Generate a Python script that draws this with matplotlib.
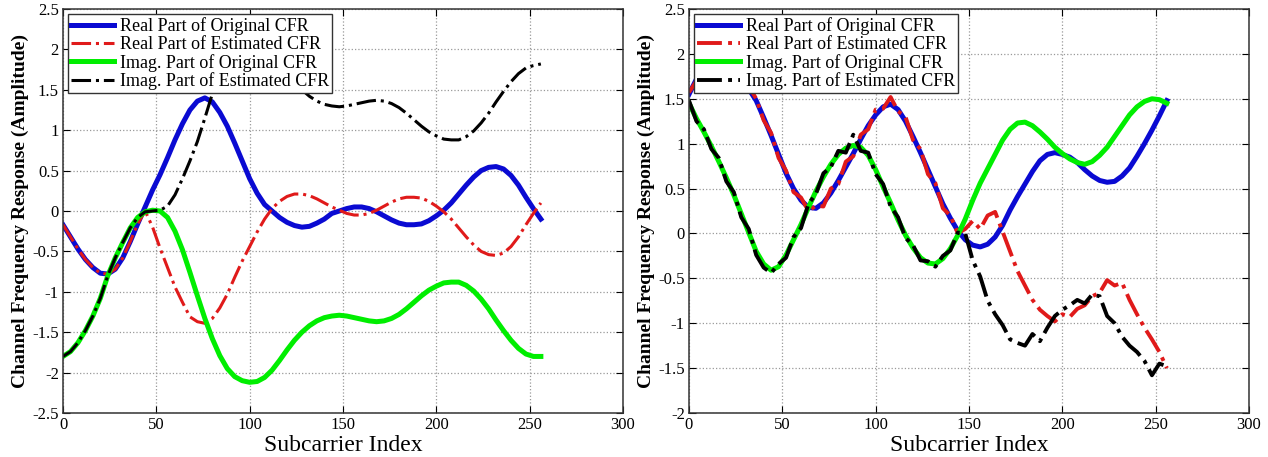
import numpy as np
import matplotlib.pyplot as plt
from matplotlib.ticker import FormatStrFormatter

plt.rcParams['font.family'] = ['Liberation Serif', 'DejaVu Serif']
plt.rcParams['axes.unicode_minus'] = False

# subcarrier index, sampled every 4
sc = np.arange(0, 257, 4)

labels = ['Real Part of Original CFR', 'Real Part of Estimated CFR',
          'Imag. Part of Original CFR', 'Imag. Part of Estimated CFR']

# ---- left panel ----
real_orig_l = [-0.17, -0.32, -0.47, -0.60, -0.70, -0.77, -0.78, -0.72, -0.58, -0.38, -0.16, 0.05,
               0.26, 0.45, 0.66, 0.88, 1.08, 1.25, 1.36, 1.40, 1.35, 1.22, 1.05, 0.84, 0.62, 0.40,
               0.22, 0.08, 0.00, -0.08, -0.14, -0.18, -0.20, -0.19, -0.15, -0.10, -0.03, 0.00, 0.03,
               0.05, 0.05, 0.03, -0.01, -0.06, -0.11, -0.15, -0.17, -0.17, -0.16, -0.12, -0.06, 0.01,
               0.10, 0.21, 0.32, 0.42, 0.50, 0.54, 0.55, 0.52, 0.44, 0.32, 0.17, 0.03, -0.10]
real_est_l = [-0.17, -0.32, -0.47, -0.60, -0.70, -0.77, -0.78, -0.72, -0.58, -0.38, -0.16, 0.00,
              -0.20, -0.46, -0.70, -0.94, -1.13, -1.31, -1.37, -1.39, -1.33, -1.20, -1.03, -0.82,
              -0.62, -0.44, -0.26, -0.10, 0.03, 0.12, 0.18, 0.21, 0.21, 0.19, 0.15, 0.10, 0.05,
              0.01, -0.03, -0.05, -0.05, -0.03, 0.01, 0.06, 0.11, 0.15, 0.17, 0.17, 0.16, 0.12,
              0.06, -0.01, -0.10, -0.21, -0.32, -0.42, -0.50, -0.54, -0.55, -0.52, -0.44, -0.32,
              -0.17, -0.03, 0.10]
imag_orig_l = [-1.80, -1.74, -1.63, -1.48, -1.30, -1.08, -0.80, -0.58, -0.39, -0.21, -0.08, -0.01,
               0.01, 0.00, -0.08, -0.25, -0.48, -0.76, -1.05, -1.33, -1.58, -1.79, -1.95, -2.05,
               -2.10, -2.12, -2.11, -2.06, -1.97, -1.85, -1.72, -1.60, -1.50, -1.42, -1.36, -1.32,
               -1.30, -1.29, -1.30, -1.32, -1.34, -1.36, -1.37, -1.36, -1.33, -1.28, -1.21, -1.13,
               -1.05, -0.98, -0.93, -0.89, -0.88, -0.88, -0.92, -0.99, -1.09, -1.21, -1.35, -1.48,
               -1.60, -1.70, -1.77, -1.80, -1.80]
imag_est_l = [-1.80, -1.74, -1.63, -1.48, -1.30, -1.08, -0.80, -0.58, -0.39, -0.21, -0.08, -0.01,
              0.00, 0.01, 0.06, 0.20, 0.40, 0.62, 0.86, 1.15, 1.45, 1.72, 1.92, 2.04, 2.10, 2.12,
              2.11, 2.06, 1.97, 1.85, 1.72, 1.60, 1.50, 1.42, 1.36, 1.32, 1.30, 1.29, 1.30, 1.32,
              1.34, 1.36, 1.37, 1.36, 1.33, 1.28, 1.21, 1.13, 1.05, 0.98, 0.93, 0.89, 0.88, 0.88,
              0.92, 0.99, 1.09, 1.21, 1.35, 1.48, 1.60, 1.70, 1.77, 1.80, 1.82]

# ---- right panel ----
real_orig_r = [1.55, 1.72, 1.85, 1.93, 1.95, 1.92, 1.84, 1.74, 1.61, 1.48, 1.29, 1.09, 0.88, 0.67,
               0.50, 0.37, 0.29, 0.28, 0.34, 0.45, 0.59, 0.74, 0.89, 1.05, 1.20, 1.32, 1.41, 1.44,
               1.38, 1.25, 1.08, 0.90, 0.71, 0.52, 0.33, 0.17, 0.03, -0.07, -0.13, -0.15, -0.12,
               -0.04, 0.09, 0.26, 0.41, 0.55, 0.69, 0.81, 0.88, 0.90, 0.88, 0.85, 0.79, 0.71, 0.64,
               0.59, 0.57, 0.58, 0.64, 0.73, 0.86, 1.00, 1.15, 1.31, 1.48]
real_est_r = [1.57, 1.70, 1.88, 1.90, 1.98, 1.90, 1.86, 1.72, 1.64, 1.50, 1.26, 1.12, 0.84, 0.70,
              0.46, 0.40, 0.25, 0.31, 0.30, 0.50, 0.55, 0.80, 0.86, 1.10, 1.16, 1.38, 1.39, 1.52,
              1.36, 1.30, 1.04, 0.94, 0.66, 0.56, 0.28, 0.20, 0.00, 0.05, 0.14, 0.05, 0.20, 0.24,
              0.02, -0.20, -0.42, -0.58, -0.74, -0.85, -0.92, -0.98, -0.90, -0.93, -0.84, -0.80,
              -0.70, -0.66, -0.52, -0.58, -0.55, -0.74, -0.90, -1.05, -1.18, -1.32, -1.50]
imag_orig_r = [1.45, 1.28, 1.13, 0.97, 0.80, 0.62, 0.43, 0.22, 0.01, -0.20, -0.34, -0.41, -0.37,
               -0.24, -0.07, 0.10, 0.29, 0.47, 0.63, 0.77, 0.88, 0.95, 0.98, 0.96, 0.87, 0.71,
               0.52, 0.34, 0.15, -0.02, -0.16, -0.27, -0.33, -0.34, -0.28, -0.17, -0.02, 0.16,
               0.37, 0.56, 0.72, 0.88, 1.04, 1.16, 1.23, 1.24, 1.20, 1.13, 1.05, 0.96, 0.89, 0.83,
               0.79, 0.77, 0.80, 0.87, 0.96, 1.08, 1.20, 1.32, 1.41, 1.47, 1.50, 1.49, 1.45]
imag_est_r = [1.48, 1.25, 1.16, 0.94, 0.84, 0.58, 0.46, 0.18, 0.05, -0.24, -0.38, -0.44, -0.34,
              -0.27, -0.04, 0.06, 0.33, 0.44, 0.67, 0.74, 0.92, 0.90, 1.10, 0.92, 0.90, 0.66,
              0.55, 0.30, 0.18, -0.05, -0.13, -0.30, -0.31, -0.37, -0.25, -0.19, 0.01, 0.00,
              -0.30, -0.48, -0.75, -0.90, -1.02, -1.18, -1.22, -1.25, -1.12, -1.20, -1.05, -0.92,
              -0.85, -0.80, -0.74, -0.78, -0.68, -0.70, -0.92, -1.00, -1.15, -1.25, -1.32, -1.42,
              -1.58, -1.45, -1.48]

blue = '#0a0ad2'
red = '#e01a1a'
green = '#00ee00'

fig = plt.figure(figsize=(12.68, 4.57), dpi=100)
ax1 = fig.add_axes([63 / 1268, 44 / 457, 560 / 1268, 404 / 457])
ax2 = fig.add_axes([689 / 1268, 44 / 457, 560 / 1268, 404 / 457])

def draw(ax, ro, re, io, ie, est_lw, ylim):
    ax.plot(sc, ro, color=blue, lw=3.6, label=labels[0])
    ax.plot(sc, re, color=red, lw=est_lw, ls='-.', label=labels[1])
    ax.plot(sc, io, color=green, lw=3.6, label=labels[2])
    ax.plot(sc, ie, color='black', lw=est_lw, ls='-.', label=labels[3])
    ax.set_xlim(0, 300)
    ax.set_ylim(*ylim)
    ax.set_xticks(np.arange(0, 301, 50))
    ax.set_yticks(np.arange(ylim[0], ylim[1] + 0.01, 0.5))
    ax.yaxis.set_major_formatter(FormatStrFormatter('%g'))
    ax.grid(True, ls=':', color='#999999', lw=0.9)
    ax.tick_params(direction='in', top=True, right=True, labelsize=12, length=5, pad=3)
    for s in ax.spines.values():
        s.set_color('#333333')
        s.set_linewidth(1.1)
    ax.set_xlabel('Subcarrier Index', fontsize=17, labelpad=1)
    ax.set_ylabel('Channel Frequency Response (Amplitude)', fontsize=14, fontweight='bold', labelpad=2)
    leg = ax.legend(loc='upper left', fontsize=13, fancybox=False, framealpha=1,
                    edgecolor='#333333', borderpad=0.15, labelspacing=0.05,
                    handlelength=2.4, handletextpad=0.3, borderaxespad=0.3)
    leg.get_frame().set_linewidth(1.0)

draw(ax1, real_orig_l, real_est_l, imag_orig_l, imag_est_l, 2.2, (-2.5, 2.5))
draw(ax2, real_orig_r, real_est_r, imag_orig_r, imag_est_r, 2.8, (-2.0, 2.5))

fig.savefig('out.png', dpi=100)
